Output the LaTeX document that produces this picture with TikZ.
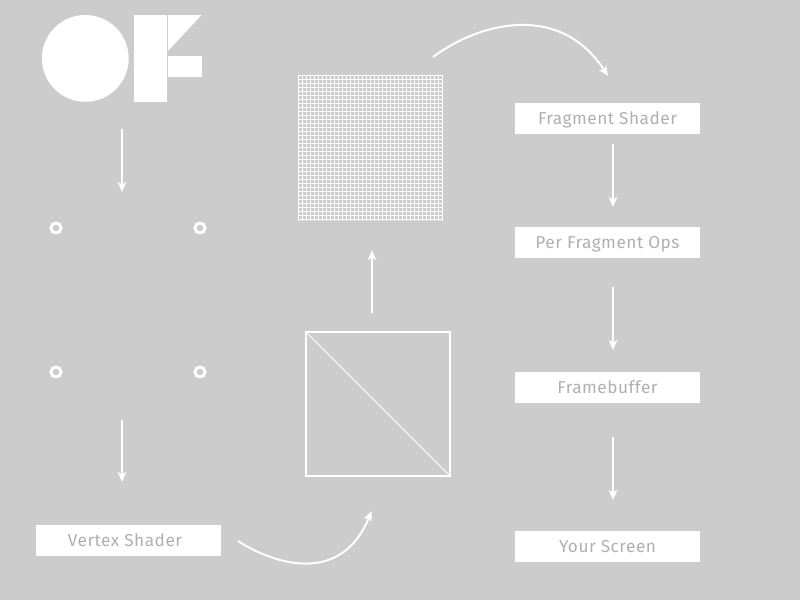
\documentclass[tikz,border=0pt]{standalone}
\usepackage{fontspec}
\setmainfont[LetterSpace=3]{Fira Sans}
\usepackage{xcolor}
\usetikzlibrary{arrows.meta}
\definecolor{Backdrop}{HTML}{CCCCCC}
\definecolor{Caption}{HTML}{B0B0B0}
\tikzset{
  stagebox/.style={fill=white, text=Caption, minimum width=3.7cm, minimum height=0.62cm, inner sep=0pt, text height=0.28cm, text depth=0.04cm, font=\fontsize{9.8}{12}\selectfont},
  flow/.style={-{Stealth[length=0.2cm, width=0.17cm, inset=0.05cm]}, white, line width=1.13pt},
  vertexring/.style={circle, draw=white, line width=1.7pt, minimum size=0.2cm, inner sep=0pt},
}
\begin{document}
\begin{tikzpicture}[x=0.02cm, y=-0.02cm]
    \fill[Backdrop] (0,0) rectangle (800,600);
    \fill[white] (85.3,58.4) circle (43.4);
    \fill[white] (134,15) rectangle (167,101.5);
    \fill[white] (168,15) -- (201.5,15) -- (168,51) -- cycle;
    \fill[white] (168,56) rectangle (202,77);

    \foreach \i in {0,...,36} {
        \draw[white, line width=0.57pt] (298.5+4*\i,75) -- (298.5+4*\i,220.5);
        \draw[white, line width=0.57pt] (298,75.5+4*\i) -- (443,75.5+4*\i);
    }

    \node[vertexring] (ringa) at (56,228) {};
    \node[vertexring] (ringb) at (200,228) {};
    \node[vertexring] (ringc) at (56,372) {};
    \node[vertexring] (ringd) at (200,372) {};

    \node[draw=white, line width=1.13pt, minimum size=2.88cm, inner sep=0pt] (quad) at (378,404) {};
    \draw[white, line width=0.57pt] (quad.north west) -- (quad.south east);

    \node[stagebox] (vertex) at (128.5,540.5) {Vertex Shader\hspace*{0.14cm}};
    \node[stagebox] (fragment) at (607.5,118.5) {Fragment Shader};
    \node[stagebox] (perfrag) at (607.5,242.5) {Per Fragment Ops};
    \node[stagebox] (buffer) at (607.5,387.5) {Framebuffer};
    \node[stagebox] (screen) at (607.5,546.5) {Your Screen};

    \coordinate (logoout) at (122,129);
    \coordinate (ringsin) at (122,192);
    \coordinate (ringsout) at (122,420);
    \coordinate (vertexin) at (122,482);
    \coordinate (vertexout) at (238,541);
    \coordinate (quadin) at (371.5,511);
    \coordinate (quadout) at (372,313);
    \coordinate (meshin) at (372,250);
    \coordinate (meshout) at (433,57);
    \coordinate (fragin) at (608,76);
    \coordinate (fragout) at (613,144);
    \coordinate (perin) at (613,207);
    \coordinate (perout) at (613,287);
    \coordinate (bufin) at (613,350);
    \coordinate (bufout) at (613,437);
    \coordinate (screenin) at (613,500);

    \draw[flow] (logoout) -- (ringsin);
    \draw[flow] (ringsout) -- (vertexin);
    \draw[flow] (quadout) -- (meshin);
    \draw[flow] (fragout) -- (perin);
    \draw[flow] (perout) -- (bufin);
    \draw[flow] (bufout) -- (screenin);
    \draw[flow] (vertexout) .. controls (277,566) and (342,584) .. (quadin);
    \draw[flow] (meshout) .. controls (480,22) and (560,2) .. (fragin);
\end{tikzpicture}
\end{document}
